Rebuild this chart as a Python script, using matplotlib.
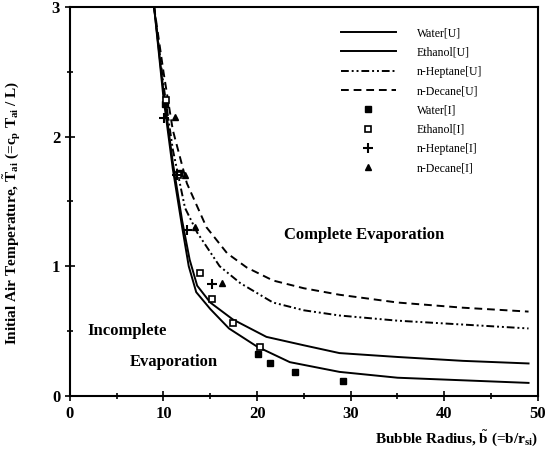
import matplotlib
matplotlib.use("Agg")
import matplotlib.pyplot as plt
from matplotlib.ticker import MultipleLocator

plt.rcParams['font.family'] = ['Liberation Serif', 'DejaVu Serif']
plt.rcParams['mathtext.fontset'] = 'custom'
plt.rcParams['mathtext.rm'] = 'Liberation Serif:bold'
plt.rcParams['mathtext.bf'] = 'Liberation Serif:bold'
plt.rcParams['mathtext.it'] = 'Liberation Serif:bold'

# uniform-temperature model curves
water_u_x = [9, 10, 11, 12, 12.7, 13.5, 15, 17, 20, 23.5, 28.8, 35, 42, 49]
water_u_y = [3, 2.3, 1.75, 1.3, 1.0, 0.8, 0.67, 0.52, 0.38, 0.26, 0.185, 0.14, 0.12, 0.10]
ethanol_u_x = [9, 10, 11, 12, 12.8, 13.6, 15, 17.4, 21, 25, 28.8, 35, 42, 49]
ethanol_u_y = [3, 2.35, 1.8, 1.35, 1.05, 0.85, 0.72, 0.59, 0.455, 0.39, 0.33, 0.30, 0.27, 0.25]
heptane_u_x = [9, 10, 11, 12.3, 13.6, 16, 18.2, 21.7, 25, 28.8, 35, 42, 49]
heptane_u_y = [3, 2.4, 1.9, 1.45, 1.26, 1.0, 0.87, 0.72, 0.66, 0.62, 0.58, 0.55, 0.52]
decane_u_x = [9, 10, 11, 12.5, 14.6, 16.8, 18.9, 21.7, 25, 28.8, 35, 42, 49]
decane_u_y = [3, 2.5, 2.05, 1.64, 1.30, 1.10, 0.99, 0.89, 0.83, 0.78, 0.72, 0.68, 0.65]

# internal-circulation model points
water_i_x = [10.2, 11.7, 20.1, 21.4, 24.0, 29.2]
water_i_y = [2.25, 1.72, 0.32, 0.25, 0.185, 0.115]
ethanol_i_x = [10.3, 11.6, 13.9, 15.2, 17.4, 20.3]
ethanol_i_y = [2.28, 1.70, 0.95, 0.75, 0.56, 0.38]
heptane_i_x = [10.1, 11.4, 12.5, 15.2]
heptane_i_y = [2.14, 1.70, 1.28, 0.86]
decane_i_x = [11.2, 12.3, 13.4, 16.3]
decane_i_y = [2.15, 1.70, 1.30, 0.87]

fig = plt.figure(figsize=(5.5, 4.63), dpi=100)
ax = fig.add_axes([0.127, 0.145, 0.851, 0.840])

ax.plot(water_u_x, water_u_y, color='black', lw=1.4, label='Water[U]')
ax.plot(ethanol_u_x, ethanol_u_y, color='black', lw=1.4, label='Ethanol[U]')
ax.plot(heptane_u_x, heptane_u_y, color='black', lw=1.4,
        linestyle=(0, (4, 1.5, 1, 1.5, 1, 1.5)), label='n-Heptane[U]')
ax.plot(decane_u_x, decane_u_y, color='black', lw=1.4,
        linestyle=(0, (4, 2.5)), label='n-Decane[U]')
ax.plot(water_i_x, water_i_y, 's', color='black', ms=5, label='Water[I]')
ax.plot(ethanol_i_x, ethanol_i_y, 's', mfc='white', mec='black', mew=1.2, ms=5, label='Ethanol[I]')
ax.plot(heptane_i_x, heptane_i_y, '+', color='black', mew=1.5, ms=7, label='n-Heptane[I]')
ax.plot(decane_i_x, decane_i_y, '^', color='black', ms=5, label='n-Decane[I]')

ax.set_xlim(0, 50)
ax.set_ylim(0, 3)
ax.xaxis.set_major_locator(MultipleLocator(10))
ax.xaxis.set_minor_locator(MultipleLocator(5))
ax.yaxis.set_major_locator(MultipleLocator(1))
ax.yaxis.set_minor_locator(MultipleLocator(0.5))
ax.tick_params(which='both', direction='inout', length=7, width=1.2, labelsize=12)
ax.tick_params(which='minor', length=5)
for lab in ax.get_xticklabels() + ax.get_yticklabels():
    lab.set_fontweight('bold')
for sp in ax.spines.values():
    sp.set_linewidth(1.5)

ax.set_xlabel(r'Bubble Radius, $\tilde{b}$ (=b/r$_{si}$)', fontsize=11, fontweight='bold')
ax.xaxis.set_label_coords(1.0, -0.085)
ax.xaxis.label.set_horizontalalignment('right')
ax.set_ylabel(r'Initial Air Temperature, $\tilde{T}_{ai}$ (=c$_p$ T$_{ai}$ / L)',
              fontsize=11, fontweight='bold')
ax.yaxis.set_label_coords(-0.1, 0.47)

ax.text(31.4, 1.24, 'Complete Evaporation', fontsize=12, fontweight='bold', ha='center', va='center')
ax.text(1.9, 0.5, 'Incomplete', fontsize=12, fontweight='bold', ha='left', va='center')
ax.text(6.4, 0.26, 'Evaporation', fontsize=12, fontweight='bold', ha='left', va='center')

ax.legend(loc='upper left', bbox_to_anchor=(0.58, 0.948), frameon=False, fontsize=8.5,
          borderaxespad=0, borderpad=0, handlelength=4.6, handletextpad=1.8,
          labelspacing=0.62)

fig.savefig('out.png', dpi=100)
